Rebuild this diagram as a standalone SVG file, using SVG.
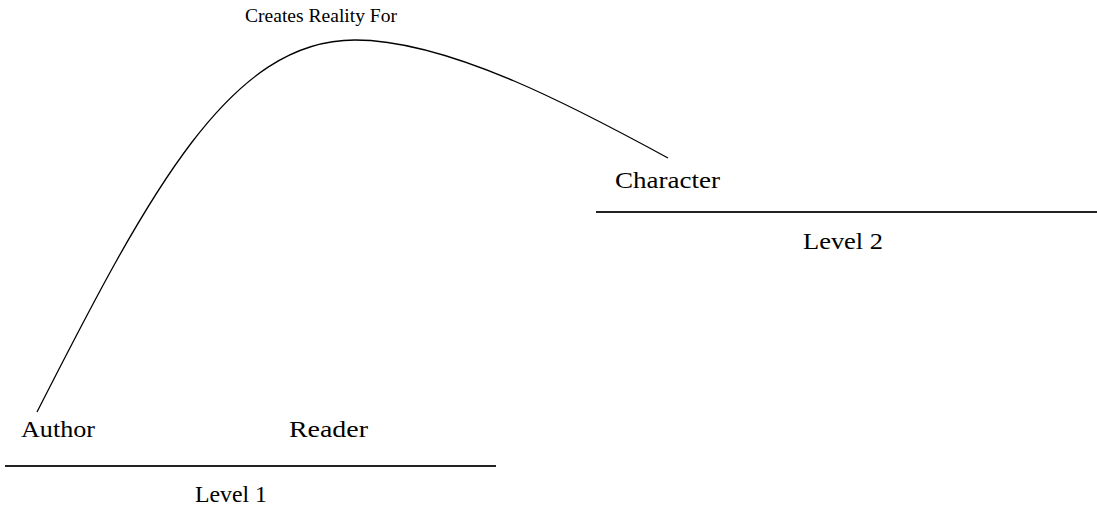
<svg xmlns="http://www.w3.org/2000/svg" width="1097" height="508" viewBox="0 0 1097 508">
<style>
text{font-family:"Liberation Serif","Times New Roman",serif;fill:#000}
.lbl{font-size:24px}
.small{font-size:18px}
.base{stroke:#222;stroke-width:2}
.conn{fill:none;stroke:#000;stroke-width:1.3}
</style>
<rect width="1097" height="508" fill="#fff"/>
<g id="connectors">
<path class="conn" d="M37,412 C150,190 230,40 355,40 C450,40 580,110 668,158"/>
<text class="small" x="245" y="22" textLength="152" lengthAdjust="spacingAndGlyphs">Creates Reality For</text>
</g>
<g id="level1">
<line class="base" x1="5" y1="466" x2="496" y2="466"/>
<text class="lbl" x="195" y="502" textLength="72" lengthAdjust="spacingAndGlyphs">Level 1</text>
</g>
<g id="level2">
<line class="base" x1="596" y1="212" x2="1097" y2="212"/>
<text class="lbl" x="803" y="249" textLength="80" lengthAdjust="spacingAndGlyphs">Level 2</text>
</g>
<g id="author"><text class="lbl" x="21" y="437" textLength="74" lengthAdjust="spacingAndGlyphs">Author</text></g>
<g id="reader"><text class="lbl" x="289" y="437" textLength="79" lengthAdjust="spacingAndGlyphs">Reader</text></g>
<g id="character"><text class="lbl" x="615" y="188" textLength="105" lengthAdjust="spacingAndGlyphs">Character</text></g>
</svg>
